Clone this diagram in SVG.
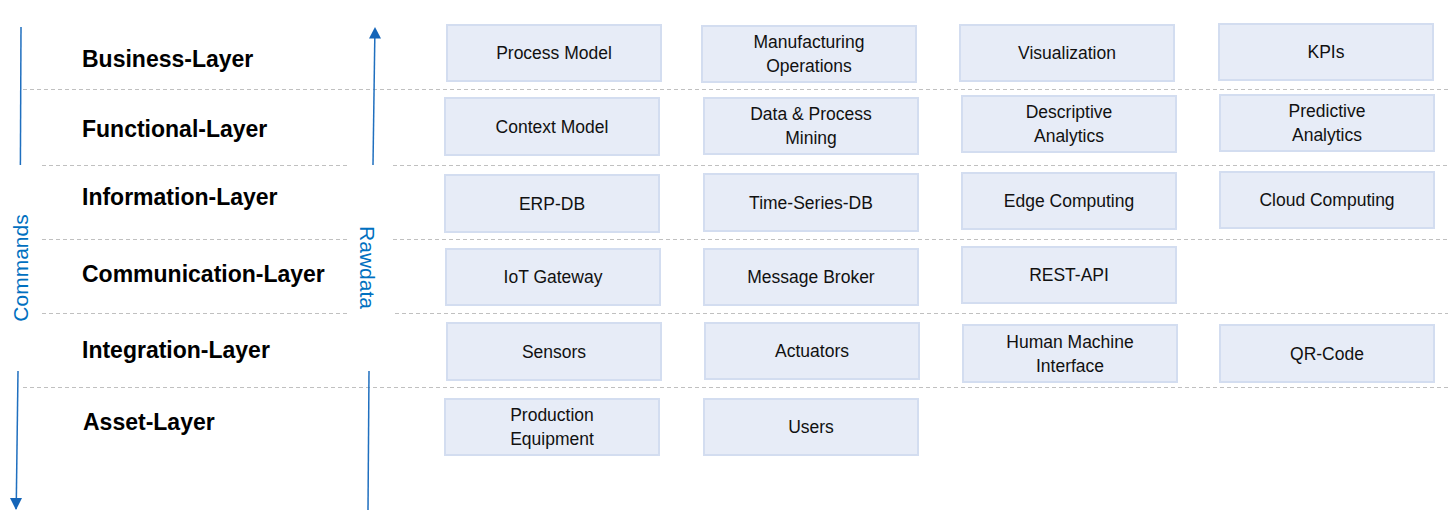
<svg xmlns="http://www.w3.org/2000/svg" width="1448" height="517" viewBox="0 0 1448 517">
<defs>
<style>
.bg{fill:#ffffff}
.sep{stroke:#c0c0c0;stroke-width:1;stroke-dasharray:4 3;fill:none}
.flow{stroke:#1f6fbf;stroke-width:1.5;fill:none}
.box{fill:#e7ecf7;stroke:#d3ddf0;stroke-width:2}
.t{font-family:"Liberation Sans",Arial,sans-serif;font-size:17.5px;fill:#111111;text-anchor:middle}
.layer{font-family:"Liberation Sans",Arial,sans-serif;font-size:23px;font-weight:bold;fill:#000000}
.side{font-family:"Liberation Sans",Arial,sans-serif;font-size:21px;fill:#0070c0;text-anchor:middle}
</style>
<marker id="ah" viewBox="0 0 12 12" refX="11" refY="6" markerWidth="12" markerHeight="12" markerUnits="userSpaceOnUse" orient="auto">
<path d="M0,0 L12,6 L0,12 z" fill="#1565b8"/>
</marker>
</defs>
<rect class="bg" x="0" y="0" width="1448" height="517"/>

<g id="separators">
<line class="sep" x1="23" y1="89.5" x2="1448" y2="89.5"/>
<line class="sep" x1="42" y1="165.5" x2="347" y2="165.5"/>
<line class="sep" x1="393" y1="165.5" x2="1448" y2="165.5"/>
<line class="sep" x1="42" y1="239.5" x2="347" y2="239.5"/>
<line class="sep" x1="393" y1="239.5" x2="1448" y2="239.5"/>
<line class="sep" x1="42" y1="313.5" x2="347" y2="313.5"/>
<line class="sep" x1="395" y1="313.5" x2="1448" y2="313.5"/>
<line class="sep" x1="23" y1="387.5" x2="1448" y2="387.5"/>
</g>

<g id="layer-labels">
<text class="layer" x="82" y="67">Business-Layer</text>
<text class="layer" x="82" y="137">Functional-Layer</text>
<text class="layer" x="82" y="205">Information-Layer</text>
<text class="layer" x="82" y="282">Communication-Layer</text>
<text class="layer" x="82" y="358">Integration-Layer</text>
<text class="layer" x="83" y="430">Asset-Layer</text>
</g>

<g id="connectors">
<line class="flow" x1="21" y1="27" x2="20.4" y2="165"/>
<line class="flow" x1="18" y1="371" x2="16.2" y2="509"/>
<path d="M10,498 L22,498 L16,510 z" fill="#1565b8"/>
<line class="flow" x1="368" y1="510" x2="369" y2="371"/>
<line class="flow" x1="373" y1="165" x2="374.8" y2="38"/>
<path d="M369,38.5 L381,38.5 L375,27 z" fill="#1565b8"/>
</g>

<g id="commands-label">
<text class="side" transform="translate(28,268) rotate(-90)">Commands</text>
</g>
<g id="rawdata-label">
<text class="side" transform="translate(360,267.5) rotate(90)">Rawdata</text>
</g>

<g id="process-model"><rect class="box" x="447" y="25" width="214" height="56"/><text class="t" x="554" y="59">Process Model</text></g>
<g id="manufacturing-operations"><rect class="box" x="702" y="26" width="214" height="56"/><text class="t" x="809" y="48">Manufacturing</text><text class="t" x="809" y="72">Operations</text></g>
<g id="visualization"><rect class="box" x="960" y="25" width="214" height="56"/><text class="t" x="1067" y="59">Visualization</text></g>
<g id="kpis"><rect class="box" x="1219" y="24" width="214" height="56"/><text class="t" x="1326" y="58">KPIs</text></g>

<g id="context-model"><rect class="box" x="445" y="98" width="214" height="57"/><text class="t" x="552" y="132.5">Context Model</text></g>
<g id="data-process-mining"><rect class="box" x="704" y="98" width="214" height="56"/><text class="t" x="811" y="120">Data &amp; Process</text><text class="t" x="811" y="144">Mining</text></g>
<g id="descriptive-analytics"><rect class="box" x="962" y="96" width="214" height="56"/><text class="t" x="1069" y="118">Descriptive</text><text class="t" x="1069" y="142">Analytics</text></g>
<g id="predictive-analytics"><rect class="box" x="1220" y="95" width="214" height="56"/><text class="t" x="1327" y="117">Predictive</text><text class="t" x="1327" y="141">Analytics</text></g>

<g id="erp-db"><rect class="box" x="445" y="175" width="214" height="57"/><text class="t" x="552" y="209.5">ERP-DB</text></g>
<g id="time-series-db"><rect class="box" x="704" y="174" width="214" height="57"/><text class="t" x="811" y="208.5">Time-Series-DB</text></g>
<g id="edge-computing"><rect class="box" x="962" y="173" width="214" height="56"/><text class="t" x="1069" y="207">Edge Computing</text></g>
<g id="cloud-computing"><rect class="box" x="1220" y="172" width="214" height="56"/><text class="t" x="1327" y="206">Cloud Computing</text></g>

<g id="iot-gateway"><rect class="box" x="446" y="249" width="214" height="56"/><text class="t" x="553" y="283">IoT Gateway</text></g>
<g id="message-broker"><rect class="box" x="704" y="249" width="214" height="56"/><text class="t" x="811" y="283">Message Broker</text></g>
<g id="rest-api"><rect class="box" x="962" y="247" width="214" height="56"/><text class="t" x="1069" y="281">REST-API</text></g>

<g id="sensors"><rect class="box" x="447" y="323" width="214" height="57"/><text class="t" x="554" y="357.5">Sensors</text></g>
<g id="actuators"><rect class="box" x="705" y="323" width="214" height="56"/><text class="t" x="812" y="357">Actuators</text></g>
<g id="hmi"><rect class="box" x="963" y="325" width="214" height="57"/><text class="t" x="1070" y="347.5">Human Machine</text><text class="t" x="1070" y="371.5">Interface</text></g>
<g id="qr-code"><rect class="box" x="1220" y="325" width="214" height="57"/><text class="t" x="1327" y="359.5">QR-Code</text></g>

<g id="production-equipment"><rect class="box" x="445" y="399" width="214" height="56"/><text class="t" x="552" y="421">Production</text><text class="t" x="552" y="445">Equipment</text></g>
<g id="users"><rect class="box" x="704" y="399" width="214" height="56"/><text class="t" x="811" y="433">Users</text></g>
</svg>
